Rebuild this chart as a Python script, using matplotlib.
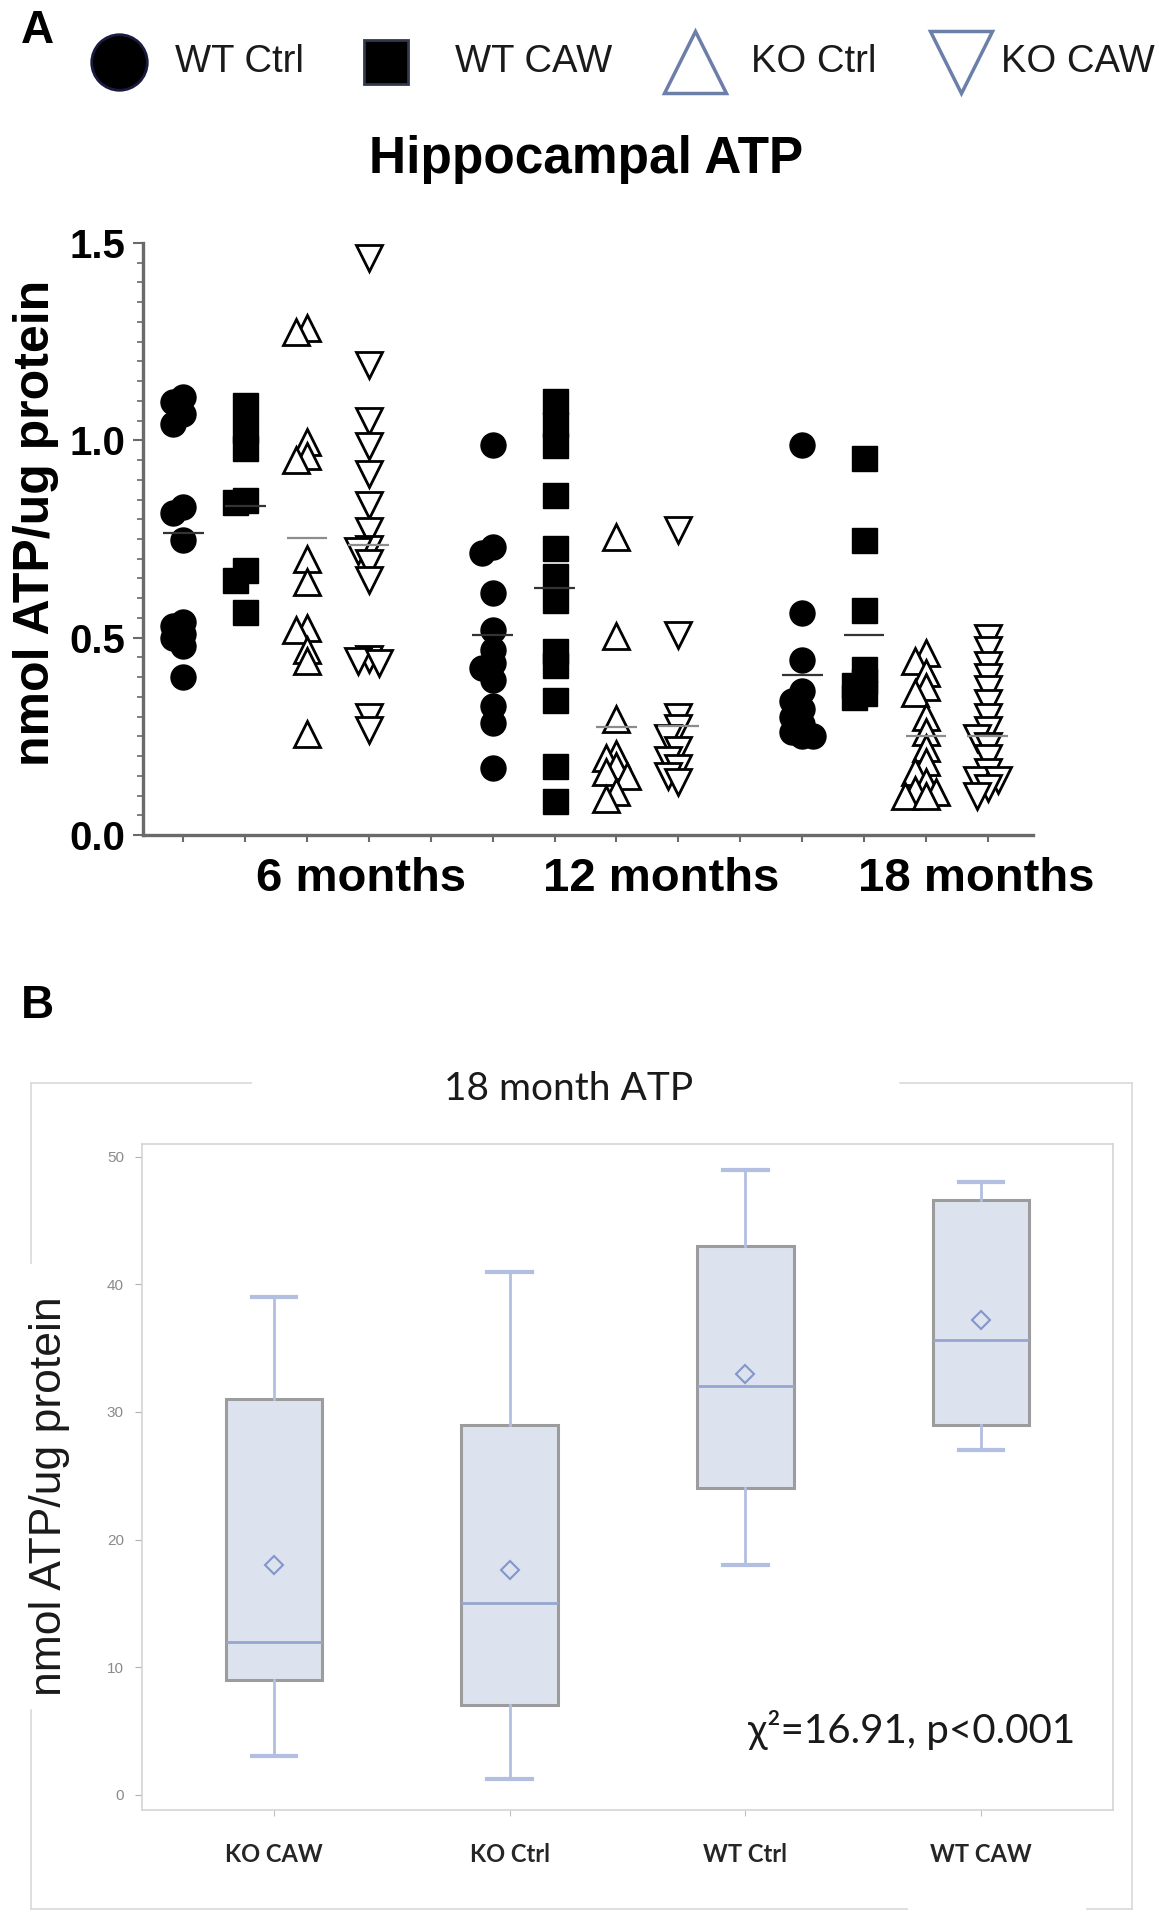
import numpy as np
import matplotlib
matplotlib.use("Agg")
import matplotlib.pyplot as plt
from matplotlib.lines import Line2D
from matplotlib.ticker import MultipleLocator

plt.rcParams['font.family'] = ['Liberation Sans', 'DejaVu Sans']

W, H = 1159, 1920

# ---- panel A data (nmol ATP/ug protein) ----
groups = ["WT Ctrl", "WT CAW", "KO Ctrl", "KO CAW"]
ages = ["6 months", "12 months", "18 months"]

wt_ctrl_6 = [1.109, 1.097, 1.067, 1.042, 0.83, 0.815, 0.747, 0.54, 0.53, 0.51, 0.50, 0.48, 0.40]
wt_caw_6 = [1.09, 1.025, 0.98, 0.85, 0.845, 0.672, 0.646, 0.566]
ko_ctrl_6 = [1.285, 1.275, 0.995, 0.96, 0.95, 0.70, 0.64, 0.525, 0.52, 0.47, 0.44, 0.255]
ko_caw_6 = [1.463, 1.19, 1.05, 0.985, 0.915, 0.835, 0.77, 0.725, 0.72, 0.69, 0.645,
            0.445, 0.44, 0.435, 0.30, 0.265]

wt_ctrl_12 = [0.987, 0.73, 0.715, 0.613, 0.52, 0.47, 0.437, 0.424, 0.394, 0.327, 0.285, 0.17]
wt_caw_12 = [1.10, 1.042, 0.987, 0.861, 0.727, 0.655, 0.596, 0.465, 0.432, 0.343, 0.175, 0.086]
ko_ctrl_12 = [0.755, 0.503, 0.293, 0.205, 0.195, 0.175, 0.16, 0.15, 0.11, 0.09]
ko_caw_12 = [0.773, 0.508, 0.298, 0.27, 0.245, 0.215, 0.19, 0.17, 0.15, 0.135]

wt_ctrl_18 = [0.987, 0.563, 0.444, 0.365, 0.34, 0.32, 0.30, 0.28, 0.26, 0.25, 0.25]
wt_caw_18 = [0.954, 0.747, 0.571, 0.42, 0.39, 0.38, 0.36, 0.35]
ko_ctrl_18 = [0.46, 0.44, 0.41, 0.375, 0.36, 0.30, 0.26, 0.22, 0.185, 0.16, 0.135,
              0.115, 0.11, 0.10, 0.10]
ko_caw_18 = [0.50, 0.47, 0.43, 0.40, 0.37, 0.335, 0.30, 0.265, 0.245, 0.225, 0.195,
             0.16, 0.14, 0.14, 0.12, 0.10]

# mean bars as drawn in the figure (6, 12, 18 months; WT Ctrl, WT CAW, KO Ctrl, KO CAW)
mean_6 = [0.765, 0.834, 0.752, 0.735]
mean_12 = [0.507, 0.627, 0.273, 0.276]
mean_18 = [0.406, 0.508, 0.25, 0.25]

# ---- panel B data (18 month ATP box plot) ----
box_labels = ["KO CAW", "KO Ctrl", "WT Ctrl", "WT CAW"]
box_lo = [3, 1.2, 18, 27]
box_q1 = [9, 7, 24, 29]
box_med = [12, 15, 32, 35.6]
box_q3 = [31, 29, 43, 46.6]
box_hi = [39, 41, 49, 48]
box_mean = [18, 17.6, 33, 37.2]


def fx(px):
    return px / W


def fy(py):
    return 1 - py / H


fig = plt.figure(figsize=(W / 100, H / 100), dpi=100)

# ================= panel A =================
xlim = (0.35, 14.73)
ylim = (0, 1.5)
axA = fig.add_axes([fx(143), fy(835), 890 / W, 592 / H])
axA.set_xlim(*xlim)
axA.set_ylim(*ylim)
px_x = 890 / (xlim[1] - xlim[0])
px_y = 592 / (ylim[1] - ylim[0])


def swarm(vals, x0, dx=0.17, min_px=10.5):
    # simple beeswarm: push overlapping points sideways
    vals = np.asarray(vals)
    xs = np.zeros(len(vals))
    placed = []
    for i in np.argsort(vals)[::-1]:
        for k in [0, -1, 1, -2, 2, -3, 3]:
            xo = x0 + k * dx
            if all(np.hypot((xo - xp) * px_x, (vals[i] - yp) * px_y) >= min_px
                   for xp, yp in placed):
                break
        xs[i] = xo
        placed.append((xo, vals[i]))
    return xs


data = [[wt_ctrl_6, wt_caw_6, ko_ctrl_6, ko_caw_6],
        [wt_ctrl_12, wt_caw_12, ko_ctrl_12, ko_caw_12],
        [wt_ctrl_18, wt_caw_18, ko_ctrl_18, ko_caw_18]]
means = [mean_6, mean_12, mean_18]

styles = [dict(marker="o", ms=18, mfc="black", mec="black", mew=1),
          dict(marker="s", ms=18, mfc="black", mec="black", mew=1),
          dict(marker="^", ms=19, mfc="white", mec="black", mew=2),
          dict(marker="v", ms=19, mfc="white", mec="black", mew=2)]

for a in range(3):
    for g in range(4):
        pos = 1 + a * 5 + g
        vals = data[a][g]
        xs = swarm(vals, pos)
        axA.plot(xs, vals, ls="none", zorder=3, **styles[g])
        axA.hlines(means[a][g], pos - 0.33, pos + 0.33,
                   color="#333333" if g < 2 else "#8c8c8c", lw=1.6, zorder=4)

for s in ["top", "right"]:
    axA.spines[s].set_visible(False)
for s in ["left", "bottom"]:
    axA.spines[s].set_color("#6a6a6a")
    axA.spines[s].set_linewidth(2.4)

axA.set_xticks(np.arange(1, 15))
axA.set_xticklabels([])
axA.tick_params(axis="x", which="major", length=5, width=1.5, color="#6a6a6a")
axA.set_xticks([3.88, 8.72, 13.81], ages, minor=True)
axA.tick_params(axis="x", which="minor", length=0, pad=16, labelsize=34)
for t in axA.get_xticklabels(minor=True):
    t.set_fontweight("bold")

axA.set_yticks([0, 0.5, 1.0, 1.5])
axA.set_yticklabels(["0.0", "0.5", "1.0", "1.5"], fontweight="bold")
axA.yaxis.set_minor_locator(MultipleLocator(0.05))
axA.tick_params(axis="y", which="major", length=7, width=1.5, color="#6a6a6a",
                labelsize=29, pad=6)
axA.tick_params(axis="y", which="minor", length=4, width=1.2, color="#6a6a6a")

fig.text(fx(36), fy(523), "nmol ATP/ug protein", rotation=90, ha="center",
         va="center", fontsize=36, fontweight="bold")
fig.text(fx(586), fy(160), "Hippocampal ATP", ha="center", va="center",
         fontsize=37, fontweight="bold")
fig.text(fx(37), fy(31), "A", ha="center", va="center", fontsize=33,
         fontweight="bold")

# legend row
leg_items = [
    (119, 175, dict(marker="o", ms=40, mfc="black", mec="#1a1a40", mew=2)),
    (386, 455, dict(marker="s", ms=32, mfc="black", mec="#303850", mew=2)),
    (695, 751, dict(marker="^", ms=44, mfc="white", mec="#6b7fa8", mew=2.5)),
    (961, 1001, dict(marker="v", ms=44, mfc="white", mec="#6b7fa8", mew=2.5)),
]
for (mx, tx, st), lab in zip(leg_items, groups):
    fig.add_artist(Line2D([fx(mx)], [fy(62)], transform=fig.transFigure, ls="none", **st))
    fig.text(fx(tx), fy(62), lab, ha="left", va="center", fontsize=27.5,
             color="#1a1a1a")

# ================= panel B =================
axB = fig.add_axes([fx(142), fy(1810), (1113 - 142) / W, (1810 - 1144) / H])
stats = []
for i in range(4):
    stats.append(dict(label=box_labels[i], whislo=box_lo[i], q1=box_q1[i],
                      med=box_med[i], q3=box_q3[i], whishi=box_hi[i],
                      mean=box_mean[i]))
axB.bxp(stats, positions=[1, 2, 3, 4], widths=0.41, capwidths=0.19,
        patch_artist=True, showmeans=True, showfliers=False,
        boxprops=dict(facecolor="#dce3ef", edgecolor="#9c9c9c", linewidth=2.2),
        medianprops=dict(color="#97a6d0", linewidth=2),
        whiskerprops=dict(color="#b3bfe0", linewidth=2),
        capprops=dict(color="#b3bfe0", linewidth=3),
        meanprops=dict(marker="D", markerfacecolor="none", markeredgecolor="#8496cc",
                       markersize=9, markeredgewidth=1.5))
axB.set_xlim(0.44, 4.56)
axB.set_ylim(-1.2, 51)
for s in axB.spines.values():
    s.set_color("#d4d4d4")
    s.set_linewidth(1.2)
axB.set_yticks(range(0, 51, 10))
axB.tick_params(axis="y", length=5, color="#b0b0b0", labelsize=11,
                labelcolor="#8a8a8a", pad=8)
axB.tick_params(axis="x", length=4, color="#c0c0c0", pad=20)
axB.set_xticks([1, 2, 3, 4], box_labels)
for t in axB.get_xticklabels():
    t.set_fontweight("bold")
    t.set_fontsize(17)
    t.set_family(["Lato", "DejaVu Sans"])
    t.set_color("#262626")

fig.text(fx(37), fy(1006), "B", ha="center", va="center", fontsize=33,
         fontweight="bold")
fig.text(fx(569), fy(1089), "18 month ATP", ha="center", va="center", fontsize=28,
         family=["Lato", "DejaVu Sans"], color="#1a1a1a")
fig.text(fx(49), fy(1496), "nmol ATP/ug protein", rotation=90, ha="center",
         va="center", fontsize=32, color="#1a1a1a")
fig.text(fx(912), fy(1730), "χ²=16.91, p<0.001", ha="center", va="center",
         fontsize=29, family=["Lato", "DejaVu Sans"], color="#1a1a1a")

# light frame around panel B (with gaps for title and label)
frame = [((31, 1083), (251, 1083)), ((900, 1083), (1132, 1083)),
         ((1132, 1083), (1132, 1909)), ((31, 1909), (907, 1909)),
         ((1087, 1909), (1132, 1909)), ((31, 1083), (31, 1263)),
         ((31, 1710), (31, 1909))]
for (x0, y0), (x1, y1) in frame:
    fig.add_artist(Line2D([fx(x0), fx(x1)], [fy(y0), fy(y1)],
                          transform=fig.transFigure, color="#d9d9d9", lw=1.2))

fig.savefig("out.png", dpi=100)
